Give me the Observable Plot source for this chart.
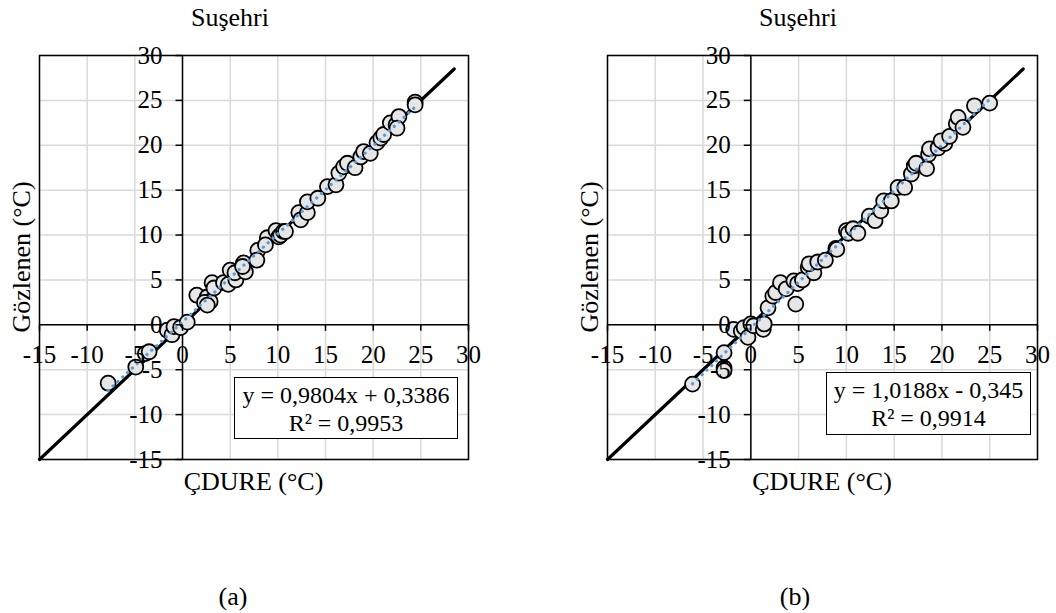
<!DOCTYPE html>
<html>
<head>
<meta charset="utf-8">
<script src="https://cdn.jsdelivr.net/npm/d3@7"></script>
<script src="https://cdn.jsdelivr.net/npm/@observablehq/plot@0.6"></script>
<style>
  html, body { margin: 0; padding: 0; background: #fff; }
  #fig { position: relative; width: 1056px; height: 613px; font-family: "Liberation Serif", "Times New Roman", serif; color: #000; overflow: hidden; }
  #fig svg { position: absolute; top: 0; overflow: visible; }
  .lbl { position: absolute; white-space: nowrap; line-height: 1; }
  .legend { position: absolute; border: 1.5px solid #000; background: #fff; box-sizing: border-box; text-align: center; font-size: 24px; line-height: 28px; padding-top: 3px; }
</style>
</head>
<body>
<div id="fig"></div>
<script>
// ---- data ----
const titleText = "Suşehri";
const xTitle = "ÇDURE (°C)";
const yTitle = "Gözlenen (°C)";
const panelLabels = ["(a)", "(b)"];
const ticks = [-15, -10, -5, 0, 5, 10, 15, 20, 25, 30];
const oneToOne = [-15, 28.5];

const aX = [-7.8, -4.9, -3.9, -3.5, -1.6, -1.1, -0.9, -0.2, 0.5, 1.5, 2.6, 2.9, 2.3, 2.6, 3.1, 3.3, 4.3, 4.8, 5.0, 5.6, 5.5, 6.4, 6.6, 6.3, 7.9, 7.8, 8.9, 8.7, 9.8, 10.1, 10.3, 10.6, 10.8, 12.2, 12.4, 13.1, 13.1, 14.2, 15.2, 16.1, 16.4, 16.9, 17.3, 18.1, 18.7, 19.0, 19.7, 20.4, 20.8, 21.1, 21.8, 22.4, 22.7, 22.5, 24.4, 24.4];
const aY = [-6.5, -4.7, -3.2, -3.0, -0.6, -1.1, -0.2, -0.3, 0.3, 3.3, 3.1, 2.6, 2.5, 2.2, 4.7, 4.1, 4.7, 4.5, 6.1, 5.0, 5.8, 6.9, 5.9, 6.5, 8.3, 7.2, 9.7, 8.9, 10.5, 9.8, 10.0, 10.4, 10.4, 12.5, 11.7, 12.5, 13.7, 14.1, 15.4, 15.6, 16.9, 17.6, 18.0, 17.5, 18.7, 19.3, 19.1, 20.3, 20.8, 21.2, 22.5, 22.3, 23.2, 21.9, 24.8, 24.5];
const aSlope = 0.9804, aIntercept = 0.3386;
const aEq = ["y = 0,9804x + 0,3386", "R² = 0,9953"];

const bX = [-6.1, -2.8, -2.8, -2.8, -1.8, -1.0, -0.7, -0.3, 0.0, 0.3, 1.3, 1.4, 1.8, 2.3, 2.6, 3.1, 3.7, 4.5, 4.7, 4.9, 5.4, 6.0, 6.6, 6.1, 7.0, 7.8, 8.9, 9.0, 10.0, 10.2, 10.7, 11.2, 12.4, 13.0, 13.6, 13.9, 14.7, 15.4, 16.1, 16.8, 17.1, 17.3, 18.4, 18.6, 18.7, 19.6, 20.3, 19.9, 20.8, 21.5, 21.7, 22.2, 23.4, 25.0];
const bY = [-6.6, -3.1, -4.8, -5.1, -0.5, -0.7, -0.3, -1.4, 0.1, -0.1, -0.5, 0.1, 1.9, 3.2, 3.6, 4.7, 4.0, 4.9, 2.3, 4.6, 5.0, 6.4, 5.8, 6.8, 7.0, 7.2, 8.5, 8.4, 10.5, 10.2, 10.7, 10.2, 12.1, 11.6, 12.7, 13.8, 13.8, 15.3, 15.3, 16.8, 17.7, 18.0, 17.4, 19.0, 19.6, 19.7, 20.2, 20.5, 21.0, 22.4, 23.1, 22.0, 24.4, 24.7];
const bSlope = 1.0188, bIntercept = -0.345;
const bEq = ["y = 1,0188x - 0,345", "R² = 0,9914"];

// ---- drawing ----
const fig = document.getElementById("fig");
const tickDown = {draw(ctx) { ctx.moveTo(0, 0); ctx.lineTo(0, 6); }};
const tickLeft = {draw(ctx) { ctx.moveTo(0, 0); ctx.lineTo(-7, 0); }};

function panel(xs, ys, slope, intercept, opts) {
  const pts = xs.map((x, i) => ({x, y: ys[i]}));
  const ext = d3.extent(xs);
  const trend = ext.map(x => ({x, y: slope * x + intercept}));
  const diag = oneToOne.map(v => ({x: v, y: v}));
  const svg = Plot.plot({
    width: 528, height: 500,
    marginLeft: opts.ml, marginRight: opts.mr, marginTop: 55, marginBottom: 41,
    x: {domain: [-15, 30], axis: null},
    y: {domain: [-15, 30], axis: null},
    style: {fontFamily: "'Liberation Serif', 'Times New Roman', serif", fontSize: "25px", background: "transparent"},
    marks: [
      Plot.ruleX(ticks, {x: d => d, stroke: "#d9d9d9", strokeWidth: 1.5}),
      Plot.ruleY(ticks, {y: d => d, stroke: "#d9d9d9", strokeWidth: 1.5}),
      Plot.frame({stroke: "#000", strokeWidth: 1.5}),
      Plot.ruleX([0], {stroke: "#000", strokeWidth: 1.5}),
      Plot.ruleY([0], {stroke: "#000", strokeWidth: 1.5}),
      Plot.line(diag, {x: "x", y: "y", stroke: "#000", strokeWidth: 3.2}),
      Plot.dot(pts, {x: "x", y: "y", r: 7.5, fill: "#e6e6e6", stroke: "#000", strokeWidth: 1.8}),
      Plot.line(trend, {x: "x", y: "y", stroke: "#5b9bd5", strokeWidth: 3.2, strokeDasharray: "0.1 6.5", strokeLinecap: "round"}),
      Plot.dot(ticks, {x: d => d, y: () => 0, symbol: tickDown, stroke: "#000", fill: "none", strokeWidth: 1.5}),
      Plot.dot(ticks, {x: () => 0, y: d => d, symbol: tickLeft, stroke: "#000", fill: "none", strokeWidth: 1.5}),
      Plot.text(ticks, {x: d => d, y: () => 0, text: d => String(d), dy: 30, fontSize: 25, fill: "#000", textAnchor: "middle"}),
      Plot.text(ticks, {x: () => 0, y: d => d, text: d => String(d), dx: -20, fontSize: 25, fill: "#000", textAnchor: "end"})
    ]
  });
  svg.style.left = opts.left + "px";
  fig.appendChild(svg);
}

function label(text, cx, cy, size, rotate) {
  const d = document.createElement("div");
  d.className = "lbl";
  d.textContent = text;
  d.style.fontSize = size + "px";
  d.style.left = cx + "px";
  d.style.top = cy + "px";
  d.style.transform = "translate(-50%, -50%)" + (rotate ? " rotate(-90deg)" : "");
  fig.appendChild(d);
}

function legend(lines, l, t, w, h) {
  const d = document.createElement("div");
  d.className = "legend";
  d.style.left = l + "px"; d.style.top = t + "px";
  d.style.width = w + "px"; d.style.height = h + "px";
  d.innerHTML = lines.map(s => `<div>${s}</div>`).join("");
  fig.appendChild(d);
}

panel(aX, aY, aSlope, aIntercept, {left: 0, ml: 39, mr: 60});
panel(bX, bY, bSlope, bIntercept, {left: 528, ml: 79, mr: 19});

label(titleText, 230, 18, 26);
label(titleText, 798, 18, 26);
label(xTitle, 253.5, 482, 26);
label(xTitle, 822, 482, 26);
label(yTitle, 22, 257, 26, true);
label(yTitle, 590, 257, 26, true);
label(panelLabels[0], 233, 597, 26);
label(panelLabels[1], 795, 597, 26);

legend(aEq, 234, 377, 224, 62);
legend(bEq, 826, 372, 205, 63);
</script>
</body>
</html>
